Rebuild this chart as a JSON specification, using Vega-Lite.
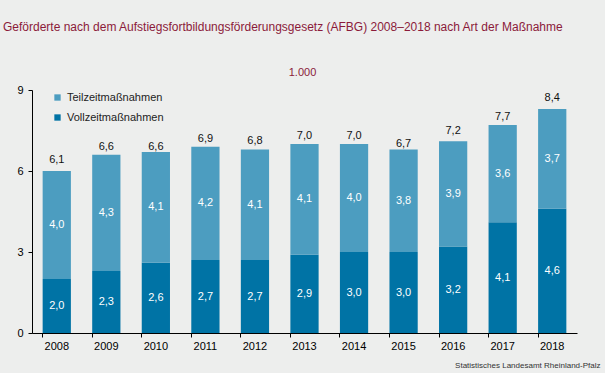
{
  "$schema": "https://vega.github.io/schema/vega-lite/v6.json",
  "width": 545,
  "height": 243,
  "autosize": {"type": "none"},
  "padding": {"left": 32, "top": 90, "right": 28, "bottom": 40},
  "background": "#EDEEED",
  "config": {
    "view": {"stroke": null},
    "font": "Liberation Sans",
    "locale": {"number": {"decimal": ",", "thousands": ".", "grouping": [3], "currency": ["", " €"]}}
  },
  "title": {
    "text": "Geförderte nach dem Aufstiegsfortbildungsförderungsgesetz (AFBG) 2008–2018 nach Art der Maßnahme",
    "anchor": "start",
    "frame": "group",
    "orient": "top",
    "offset": 0,
    "baseline": "alphabetic",
    "dx": -29,
    "dy": -23,
    "color": "#8B1A3A",
    "fontSize": 12,
    "fontWeight": "normal",
    "font": "Liberation Sans"
  },
  "datasets": {
    "segs": [
      {"Jahr": "2008", "Art": "Vollzeitmaßnahmen", "Wert": 2.0},
      {"Jahr": "2008", "Art": "Teilzeitmaßnahmen", "Wert": 4.0},
      {"Jahr": "2009", "Art": "Vollzeitmaßnahmen", "Wert": 2.3},
      {"Jahr": "2009", "Art": "Teilzeitmaßnahmen", "Wert": 4.3},
      {"Jahr": "2010", "Art": "Vollzeitmaßnahmen", "Wert": 2.6},
      {"Jahr": "2010", "Art": "Teilzeitmaßnahmen", "Wert": 4.1},
      {"Jahr": "2011", "Art": "Vollzeitmaßnahmen", "Wert": 2.7},
      {"Jahr": "2011", "Art": "Teilzeitmaßnahmen", "Wert": 4.2},
      {"Jahr": "2012", "Art": "Vollzeitmaßnahmen", "Wert": 2.7},
      {"Jahr": "2012", "Art": "Teilzeitmaßnahmen", "Wert": 4.1},
      {"Jahr": "2013", "Art": "Vollzeitmaßnahmen", "Wert": 2.9},
      {"Jahr": "2013", "Art": "Teilzeitmaßnahmen", "Wert": 4.1},
      {"Jahr": "2014", "Art": "Vollzeitmaßnahmen", "Wert": 3.0},
      {"Jahr": "2014", "Art": "Teilzeitmaßnahmen", "Wert": 4.0},
      {"Jahr": "2015", "Art": "Vollzeitmaßnahmen", "Wert": 3.0},
      {"Jahr": "2015", "Art": "Teilzeitmaßnahmen", "Wert": 3.8},
      {"Jahr": "2016", "Art": "Vollzeitmaßnahmen", "Wert": 3.2},
      {"Jahr": "2016", "Art": "Teilzeitmaßnahmen", "Wert": 3.9},
      {"Jahr": "2017", "Art": "Vollzeitmaßnahmen", "Wert": 4.1},
      {"Jahr": "2017", "Art": "Teilzeitmaßnahmen", "Wert": 3.6},
      {"Jahr": "2018", "Art": "Vollzeitmaßnahmen", "Wert": 4.6},
      {"Jahr": "2018", "Art": "Teilzeitmaßnahmen", "Wert": 3.7}
    ],
    "totals": [
      {"Jahr": "2008", "Summe": 6.1},
      {"Jahr": "2009", "Summe": 6.6},
      {"Jahr": "2010", "Summe": 6.6},
      {"Jahr": "2011", "Summe": 6.9},
      {"Jahr": "2012", "Summe": 6.8},
      {"Jahr": "2013", "Summe": 7.0},
      {"Jahr": "2014", "Summe": 7.0},
      {"Jahr": "2015", "Summe": 6.7},
      {"Jahr": "2016", "Summe": 7.2},
      {"Jahr": "2017", "Summe": 7.7},
      {"Jahr": "2018", "Summe": 8.4}
    ]
  },
  "encoding": {
    "x": {
      "field": "Jahr",
      "type": "ordinal",
      "scale": {"paddingInner": 0.43, "paddingOuter": 0.215},
      "axis": {
        "title": "Statistisches Landesamt Rheinland-Pfalz",
        "titleX": 568,
        "titleY": 32,
        "titleAlign": "right",
        "titleBaseline": "middle",
        "titleFontSize": 8,
        "titleFontWeight": "normal",
        "titleColor": "#333333",
        "titleFont": "Liberation Sans",
        "labelAngle": 0,
        "bandPosition": 0,
        "domainColor": "#000000",
        "tickColor": "#000000",
        "tickSize": 4,
        "labelFontSize": 11,
        "labelColor": "#000000",
        "labelPadding": 3,
        "labelFont": "Liberation Sans",
        "labelFontWeight": "normal"
      }
    }
  },
  "layer": [
    {
      "data": {"name": "segs"},
      "mark": {"type": "bar"},
      "encoding": {
        "y": {
          "field": "Wert",
          "type": "quantitative",
          "stack": "zero",
          "scale": {"domain": [0, 9], "nice": false},
          "axis": {
            "values": [0, 3, 6, 9],
            "grid": false,
            "domainColor": "#000000",
            "tickColor": "#000000",
            "tickSize": 4,
            "labelFontSize": 11,
            "labelColor": "#000000",
            "labelPadding": 5,
            "labelFont": "Liberation Sans",
            "title": "1.000",
            "titleAngle": 0,
            "titleX": 270,
            "titleY": -18,
            "titleAlign": "center",
            "titleBaseline": "middle",
            "titleColor": "#8B1A3A",
            "titleFontSize": 11,
            "titleFontWeight": "normal",
            "titleFont": "Liberation Sans"
          }
        },
        "color": {
          "field": "Art",
          "type": "nominal",
          "scale": {
            "domain": ["Teilzeitmaßnahmen", "Vollzeitmaßnahmen"],
            "range": ["#4C9DC0", "#0073A5"]
          },
          "legend": {
            "title": null,
            "orient": "none",
            "legendX": 20,
            "legendY": 2,
            "symbolType": "square",
            "symbolSize": 40,
            "symbolStrokeWidth": 0,
            "labelFontSize": 11,
            "labelColor": "#222222",
            "labelFont": "Liberation Sans",
            "rowPadding": 8,
            "labelOffset": 4
          }
        },
        "order": {"field": "Art", "sort": "descending"}
      }
    },
    {
      "data": {"name": "segs"},
      "transform": [
        {"stack": "Wert", "groupby": ["Jahr"], "sort": [{"field": "Art", "order": "descending"}], "as": ["y0", "y1"]},
        {"calculate": "(datum.y0 + datum.y1) / 2", "as": "mitte"}
      ],
      "mark": {"type": "text", "color": "#FFFFFF", "fontSize": 11, "baseline": "middle", "font": "Liberation Sans"},
      "encoding": {
        "y": {"field": "mitte", "type": "quantitative"},
        "text": {"field": "Wert", "type": "quantitative", "format": ".1f"}
      }
    },
    {
      "data": {"name": "totals"},
      "mark": {"type": "text", "color": "#111111", "fontSize": 11, "baseline": "bottom", "dy": -3, "font": "Liberation Sans"},
      "encoding": {
        "y": {"field": "Summe", "type": "quantitative"},
        "text": {"field": "Summe", "type": "quantitative", "format": ".1f"}
      }
    }
  ]
}
